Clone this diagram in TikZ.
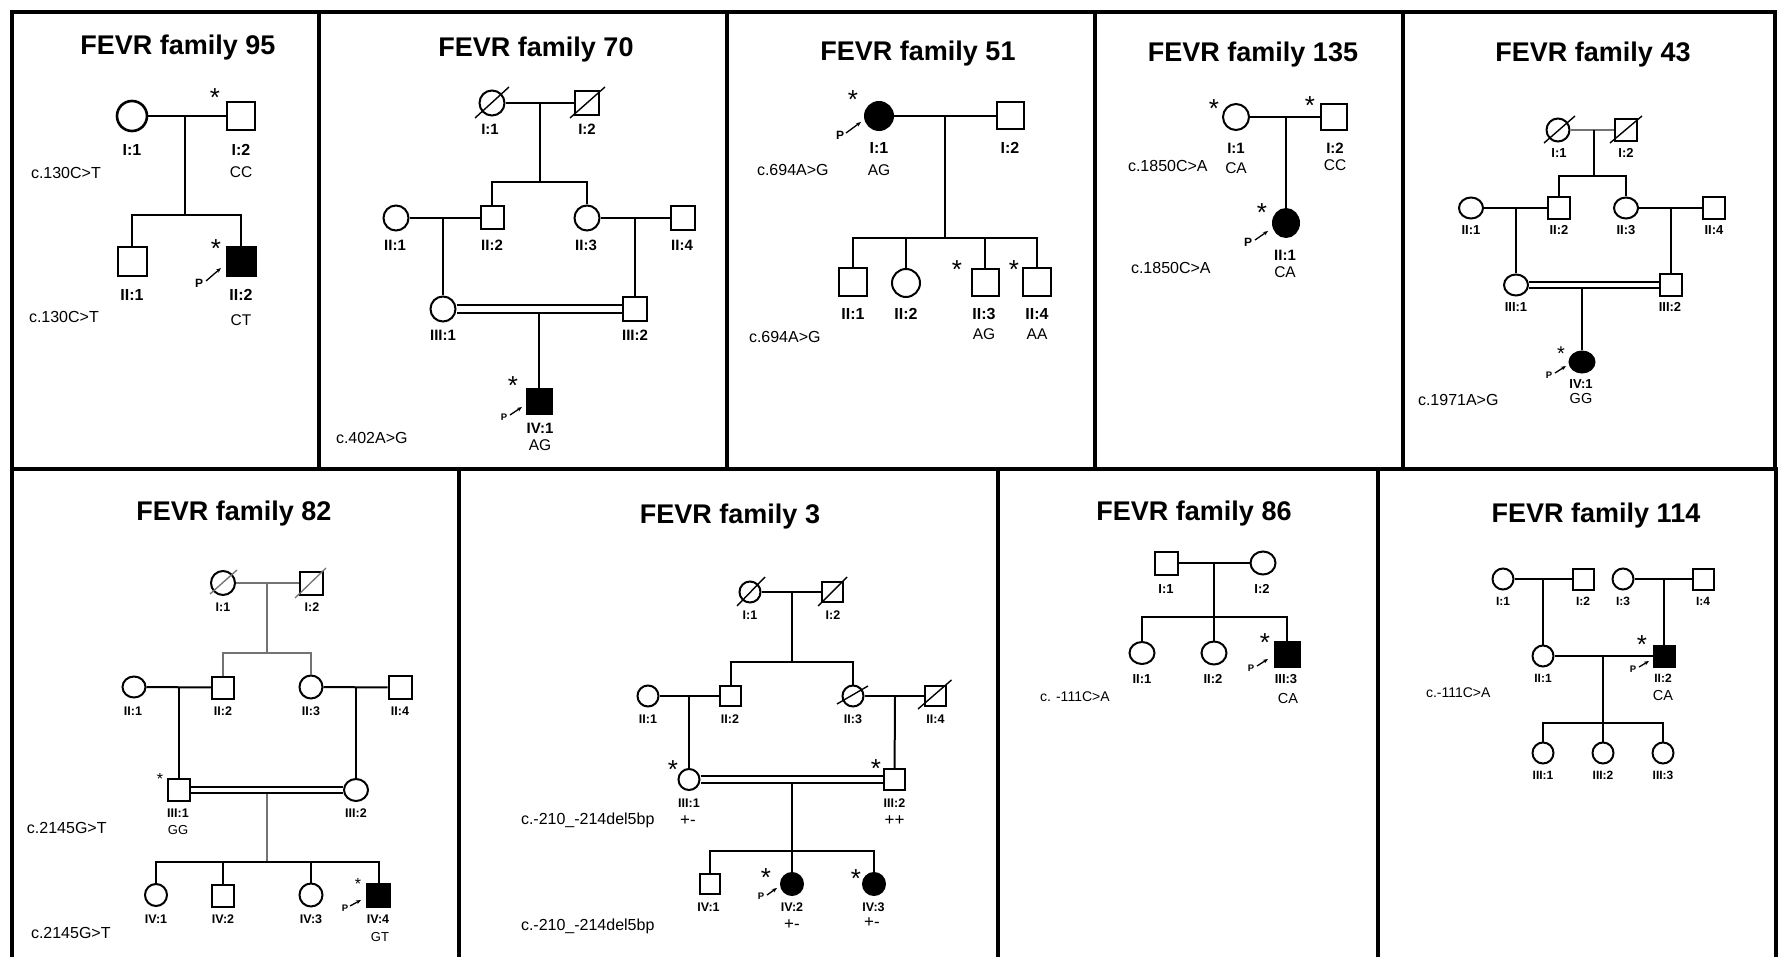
\documentclass[tikz,border=0pt]{standalone}
\usepackage{fontspec}
\setmainfont{Liberation Sans}
\usetikzlibrary{arrows.meta,shapes.geometric}
\begin{document}
\begin{tikzpicture}[x=1pt,y=-1pt,line width=2pt,
  bord/.style={line width=4pt,line cap=rect},
  msq/.style={draw,rectangle,minimum size=#1,inner sep=0pt},
  fci/.style={draw,circle,minimum size=#1,inner sep=0pt},
  fel/.style 2 args={draw,ellipse,minimum width=#1,minimum height=#2,inner sep=0pt},
  aff/.style={fill=black},
  dline/.style={line width=1.4pt},
  glin/.style={line width=1.3pt,black!55},
  ttl/.style={font=\bfseries\fontsize{27}{27}\selectfont,inner sep=0pt,anchor=base},
  lbA/.style={font=\bfseries\fontsize{16}{16}\selectfont,inner sep=0pt,text height=11.5pt,text depth=0pt},
  lbB/.style={font=\bfseries\fontsize{15}{15}\selectfont,inner sep=0pt,text height=10.7pt,text depth=0pt},
  lbC/.style={font=\bfseries\fontsize{13}{13}\selectfont,inner sep=0pt,text height=9.3pt,text depth=0pt},
  lbD/.style={font=\bfseries\fontsize{12.5}{12.5}\selectfont,inner sep=0pt,text height=9pt,text depth=0pt},
  lbE/.style={font=\bfseries\fontsize{12}{12}\selectfont,inner sep=0pt,text height=8.6pt,text depth=0pt},
  gtA/.style={font=\fontsize{15.5}{15.5}\selectfont,inner sep=0pt,text height=11.1pt,text depth=0pt},
  gtB/.style={font=\fontsize{14.5}{14.5}\selectfont,inner sep=0pt,text height=10.4pt,text depth=0pt},
  gtC/.style={font=\fontsize{13}{13}\selectfont,inner sep=0pt,text height=9.3pt,text depth=0pt},
  gtP/.style={font=\fontsize{17}{17}\selectfont,inner sep=0pt,text height=11.7pt,text depth=0pt},
  vr/.style={font=\fontsize{16}{16}\selectfont,inner sep=0pt,anchor=west,text height=11.5pt,text depth=0pt},
  vrs/.style={font=\fontsize{14}{14}\selectfont,inner sep=0pt,anchor=west,text height=10pt,text depth=0pt},
  astL/.style={font=\fontsize{26}{26}\selectfont,inner sep=0pt,anchor=base,yshift=-15pt},
  astM/.style={font=\fontsize{20}{20}\selectfont,inner sep=0pt,anchor=base,yshift=-11.5pt},
  astS/.style={font=\fontsize{16}{16}\selectfont,inner sep=0pt,anchor=base,yshift=-9.2pt},
  pP/.style={font=\bfseries\fontsize{12}{12}\selectfont,inner sep=0pt},
  pPs/.style={font=\bfseries\fontsize{9.5}{9.5}\selectfont,inner sep=0pt},
  parr/.style={-{Stealth[length=5pt,width=4pt]},line width=1.3pt}]

\fill[white] (0,0) rectangle (1785,957);
\useasboundingbox (0,0) rectangle (1785,957);

% ---------- borders ----------
\draw[bord] (12,12) -- (1775,12);
\draw[bord] (12,469) -- (1776,469);
\foreach \x in {12,319,727,1095,1403,1775} \draw[bord] (\x,12) -- (\x,469);
\foreach \x in {12,459,998,1378,1776} \draw[bord] (\x,469) -- (\x,957);

% ---------- FEVR family 95 ----------
\node[ttl] (t95) at (178,55) {FEVR family 95};
\node[fci=30,line width=2.6pt] (a11) at (132,116) {};
\node[msq=28] (a12) at (241,116) {};
\node[msq=29] (a21) at (132,262) {};
\node[msq=29,aff] (a22) at (241,262) {};
\coordinate (a1m) at (185,116);
\coordinate (a1s) at (185,215);
\draw (a11) -- (a12);
\draw (a1m) -- (a1s);
\draw (a21) |- (a1s) -| (a22);
\node[lbA] (a11t) at (132,150) {I:1};
\node[lbA] (a12t) at (241,150) {I:2};
\node[lbA] (a21t) at (132,295) {II:1};
\node[lbA] (a22t) at (241,295) {II:2};
\node[gtA] (a12g) at (241,172) {CC};
\node[gtA] (a22g) at (241,320) {CT};
\node[vr] (a1v) at (30,173) {c.130C>T};
\node[vr] (a2v) at (28,317) {c.130C>T};
\node[astL] (a12s) at (215,92) {*};
\node[astL] (a22s) at (216,243) {*};
\node[pP] (a22p) at (199,283) {P};
\coordinate (a22pa) at (206,281);
\coordinate (a22pb) at (221,268);
\draw[parr] (a22pa) -- (a22pb);

% ---------- FEVR family 70 ----------
\node[ttl] (t70) at (536,57) {FEVR family 70};
\node[fci=25] (b11) at (492,103) {};
\node[msq=24] (b12) at (587,103) {};
\draw[dline] ([shift={(-17,15)}]b11.center) -- ([shift={(17,-16)}]b11.center);
\draw[dline] ([shift={(-17,15)}]b12.center) -- ([shift={(18,-16)}]b12.center);
\node[fci=25] (b21) at (396,218) {};
\node[msq=23] (b22) at (492,218) {};
\node[fci=25] (b23) at (587,218) {};
\node[msq=24] (b24) at (683,218) {};
\node[fci=25] (b31) at (443,309) {};
\node[msq=24] (b32) at (635,309) {};
\node[msq=25,aff] (b41) at (539,401) {};
\coordinate (b1m) at (540,103);
\coordinate (b1s) at (540,182);
\coordinate (b2m) at (443,218);
\coordinate (b2n) at (635,218);
\coordinate (b3m) at (539,313);
\draw (b11) -- (b12);
\draw (b1m) -- (b1s);
\draw (b22) |- (b1s) -| (b23);
\draw (b21) -- (b22);
\draw (b23) -- (b24);
\draw (b2m) -- (b31);
\draw (b2n) -- (b32);
\draw (b3m) -- (b41);
\draw[double,double distance=6pt] (b31) -- (b32);
\node[lbB] (b11t) at (490,129) {I:1};
\node[lbB] (b12t) at (587,129) {I:2};
\node[lbB] (b21t) at (395,245) {II:1};
\node[lbB] (b22t) at (492,245) {II:2};
\node[lbB] (b23t) at (586,245) {II:3};
\node[lbB] (b24t) at (682,245) {II:4};
\node[lbB] (b31t) at (443,335) {III:1};
\node[lbB] (b32t) at (635,335) {III:2};
\node[lbB] (b41t) at (540,428) {IV:1};
\node[gtA] (b41g) at (540,445) {AG};
\node[vr] (b1v) at (335,438) {c.402A>G};
\node[astL] (b41s) at (513,380) {*};
\node[pPs] (b41p) at (504,417) {P};
\coordinate (b41pa) at (510,415);
\coordinate (b41pb) at (522,407);
\draw[parr] (b41pa) -- (b41pb);

% ---------- FEVR family 51 ----------
\node[ttl] (t51) at (918,61) {FEVR family 51};
\node[fci=28,aff] (c11) at (879,116) {};
\node[msq=27] (c12) at (1010,116) {};
\node[msq=28] (c21) at (853,282.5) {};
\node[fci=28] (c22) at (906,283) {};
\node[msq=27] (c23) at (985,282.5) {};
\node[msq=28] (c24) at (1037,282.5) {};
\coordinate (c1m) at (945,116);
\coordinate (c1s) at (945,238);
\draw (c11) -- (c12);
\draw (c1m) -- (c1s);
\draw (c21) |- (c1s) -| (c24);
\draw (c22 |- c1s) -- (c22);
\draw (c23 |- c1s) -- (c23);
\node[lbA] (c11t) at (879,148) {I:1};
\node[lbA] (c12t) at (1010,148) {I:2};
\node[lbA] (c21t) at (853,314) {II:1};
\node[lbA] (c22t) at (906,314) {II:2};
\node[lbA] (c23t) at (984,314) {II:3};
\node[lbA] (c24t) at (1037,314) {II:4};
\node[gtA] (c11g) at (879,170) {AG};
\node[gtA] (c23g) at (984,334) {AG};
\node[gtA] (c24g) at (1037,334) {AA};
\node[vr] (c1v) at (756,170) {c.694A>G};
\node[vr] (c2v) at (748,337) {c.694A>G};
\node[astL] (c11s) at (853,94) {*};
\node[astL] (c23s) at (957,264) {*};
\node[astL] (c24s) at (1014,264) {*};
\node[pP] (c11p) at (840,135) {P};
\coordinate (c11pa) at (846,133);
\coordinate (c11pb) at (861,122);
\draw[parr] (c11pa) -- (c11pb);

% ---------- FEVR family 135 ----------
\node[ttl] (t135) at (1253,62) {FEVR family 135};
\node[fci=26] (d11) at (1236,117) {};
\node[msq=26] (d12) at (1334,117) {};
\node[fel={26}{28},aff] (d21) at (1286,223) {};
\coordinate (d1m) at (1286,117);
\draw (d11) -- (d12);
\draw (d1m) -- (d21);
\node[lbB] (d11t) at (1236,148) {I:1};
\node[lbB] (d12t) at (1335,148) {I:2};
\node[lbB] (d21t) at (1285,255) {II:1};
\node[gtA] (d11g) at (1236,168) {CA};
\node[gtA] (d12g) at (1335,165) {CC};
\node[gtA] (d21g) at (1285,272) {CA};
\node[vr] (d1v) at (1127,166) {c.1850C>A};
\node[vr] (d2v) at (1130,268) {c.1850C>A};
\node[astL] (d11s) at (1214,103) {*};
\node[astL] (d12s) at (1310,100) {*};
\node[astL] (d21s) at (1262,207) {*};
\node[pP] (d21p) at (1248,242) {P};
\coordinate (d21pa) at (1255,240);
\coordinate (d21pb) at (1268,231);
\draw[parr] (d21pa) -- (d21pb);

% ---------- FEVR family 43 ----------
\node[ttl] (t43) at (1593,62) {FEVR family 43};
\node[fci=23] (e11) at (1558,130) {};
\node[msq=22] (e12) at (1626,130) {};
\draw[dline] ([shift={(-14,13)}]e11.center) -- ([shift={(17,-14)}]e11.center);
\draw[dline] ([shift={(-16,13)}]e12.center) -- ([shift={(16,-14)}]e12.center);
\node[fel={24}{21}] (e21) at (1471,208) {};
\node[msq=22] (e22) at (1559,208) {};
\node[fel={24}{21}] (e23) at (1626,208) {};
\node[msq=22] (e24) at (1714,208) {};
\node[fel={24}{21}] (e31) at (1516,285) {};
\node[msq=22] (e32) at (1671,285) {};
\node[fel={25}{21},aff] (e41) at (1582,362) {};
\coordinate (e1m) at (1594,130);
\coordinate (e1s) at (1594,176);
\coordinate (e2m) at (1516,208);
\coordinate (e2n) at (1671,208);
\coordinate (e3m) at (1582,287);
\draw[glin] (e11) -- (e12);
\draw (e1m) -- (e1s);
\draw (e22) |- (e1s) -| (e23);
\draw (e21) -- (e22);
\draw (e23) -- (e24);
\draw (e2m) -- (e31);
\draw (e2n) -- (e32);
\draw (e3m) -- (e41);
\draw[double,double distance=4pt] (e31) -- (e32);
\node[lbC] (e11t) at (1559,153) {I:1};
\node[lbC] (e12t) at (1626,153) {I:2};
\node[lbC] (e21t) at (1471,230) {II:1};
\node[lbC] (e22t) at (1559,230) {II:2};
\node[lbC] (e23t) at (1626,230) {II:3};
\node[lbC] (e24t) at (1714,230) {II:4};
\node[lbC] (e31t) at (1516,307) {III:1};
\node[lbC] (e32t) at (1670,307) {III:2};
\node[lbC] (e41t) at (1581,384) {IV:1};
\node[gtB] (e41g) at (1581,398) {GG};
\node[vr] (e1v) at (1417,400) {c.1971A>G};
\node[astM] (e41s) at (1561,349) {*};
\node[pPs] (e41p) at (1549,375) {P};
\coordinate (e41pa) at (1555,373);
\coordinate (e41pb) at (1566,366);
\draw[parr] (e41pa) -- (e41pb);

% ---------- FEVR family 82 ----------
\node[ttl] (t82) at (234,520) {FEVR family 82};
\node[fci=24] (f11) at (223,583) {};
\node[msq=23] (f12) at (311.5,583) {};
\draw[glin] ([shift={(-13,11)}]f11.center) -- ([shift={(14,-13)}]f11.center);
\draw[glin] ([shift={(-16.5,15)}]f12.center) -- ([shift={(14.5,-15)}]f12.center);
\node[fel={23}{21}] (f21) at (134,687) {};
\node[msq=22] (f22) at (223,687.5) {};
\node[fci=23] (f23) at (311,687) {};
\node[msq=23] (f24) at (400,687.5) {};
\node[msq=22] (f31) at (179,790) {};
\node[fel={24}{22}] (f32) at (356,790) {};
\node[fci=22] (f41) at (156,895) {};
\node[msq=22] (f42) at (223,895.5) {};
\node[fci=23] (f43) at (311,895) {};
\node[msq=23,aff] (f44) at (378.5,895.5) {};
\coordinate (f1m) at (267,583);
\coordinate (f1s) at (267,653);
\coordinate (f2m) at (179,687);
\coordinate (f2n) at (356,687);
\coordinate (f3m) at (267,793);
\coordinate (f3s) at (267,862);
\draw[glin] (f11) -- (f12);
\draw[glin] (f1m) -- (f1s);
\draw[glin] (f22) |- (f1s) -| (f23);
\draw (f21) -- (f22);
\draw (f23) -- (f24);
\draw (f2m) -- (f31);
\draw (f2n) -- (f32);
\draw[glin] (f3m) -- (f3s);
\draw[double,double distance=4pt] (f31) -- (f32);
\draw (f41) |- (f3s) -| (f44);
\draw (f42 |- f3s) -- (f42);
\draw (f43 |- f3s) -- (f43);
\node[lbD] (f11t) at (223,607) {I:1};
\node[lbD] (f12t) at (312,607) {I:2};
\node[lbD] (f21t) at (133,711) {II:1};
\node[lbD] (f22t) at (223,711) {II:2};
\node[lbD] (f23t) at (311,711) {II:3};
\node[lbD] (f24t) at (400,711) {II:4};
\node[lbD] (f31t) at (178,813) {III:1};
\node[lbD] (f32t) at (356,813) {III:2};
\node[lbD] (f41t) at (156,919) {IV:1};
\node[lbD] (f42t) at (223,919) {IV:2};
\node[lbD] (f43t) at (311,919) {IV:3};
\node[lbD] (f44t) at (378,919) {IV:4};
\node[gtC] (f31g) at (178,830) {GG};
\node[gtC] (f44g) at (380,937) {GT};
\node[vr] (f1v) at (26,828) {c.2145G>T};
\node[vr] (f2v) at (30,933) {c.2145G>T};
\node[astS] (f31s) at (160,775) {*};
\node[astS] (f44s) at (358,880) {*};
\node[pPs] (f44p) at (345,908) {P};
\coordinate (f44pa) at (350,906);
\coordinate (f44pb) at (361,900);
\draw[parr] (f44pa) -- (f44pb);

% ---------- FEVR family 3 ----------
\node[ttl] (t3) at (730,523) {FEVR family 3};
\node[fci=21] (g11) at (750,592) {};
\node[msq=20.5] (g12) at (832.5,592) {};
\draw[dline] ([shift={(-13,14)}]g11.center) -- ([shift={(15,-15)}]g11.center);
\draw[dline] ([shift={(-14.5,14)}]g12.center) -- ([shift={(14.5,-15)}]g12.center);
\node[fci=21] (g21) at (648,696) {};
\node[msq=20.5] (g22) at (730.5,696) {};
\node[fci=21] (g23) at (853,696) {};
\node[msq=20.5] (g24) at (935.5,696) {};
\draw[dline] ([shift={(-16,8)}]g23.center) -- ([shift={(15,-10)}]g23.center);
\draw[dline] ([shift={(-17.5,13)}]g24.center) -- ([shift={(16,-16)}]g24.center);
\node[fci=21] (g31) at (689,779.5) {};
\node[msq=20.5] (g32) at (894.5,779.5) {};
\node[msq=20.5] (g41) at (710,884) {};
\node[fci=22,aff] (g42) at (792,884) {};
\node[fci=22,aff] (g43) at (874,884) {};
\coordinate (g1m) at (792,592);
\coordinate (g1s) at (792,662);
\coordinate (g2m) at (689,696);
\coordinate (g2n) at (895,696);
\coordinate (g3m) at (792,782);
\coordinate (g3s) at (792,851);
\draw (g11) -- (g12);
\draw (g1m) -- (g1s);
\draw (g22) |- (g1s) -| (g23);
\draw (g21) -- (g22);
\draw (g23) -- (g24);
\draw (g2m) -- (g31);
\draw (g2n) -- (g32);
\draw (g3m) -- (g42);
\draw[double,double distance=4.7pt] (g31) -- (g32);
\draw (g41) |- (g3s) -| (g43);
\node[lbD] (g11t) at (750,615) {I:1};
\node[lbD] (g12t) at (833,615) {I:2};
\node[lbD] (g21t) at (648,719) {II:1};
\node[lbD] (g22t) at (730,719) {II:2};
\node[lbD] (g23t) at (853,719) {II:3};
\node[lbD] (g24t) at (935.5,719) {II:4};
\node[lbD] (g31t) at (689,802.5) {III:1};
\node[lbD] (g32t) at (894.5,802.5) {III:2};
\node[lbD] (g41t) at (708.5,906.5) {IV:1};
\node[lbD] (g42t) at (792,906.5) {IV:2};
\node[lbD] (g43t) at (873.5,906.5) {IV:3};
\node[gtP] (g31g) at (688,819.5) {+-};
\node[gtP] (g32g) at (894.5,819.5) {++};
\node[gtP] (g42g) at (792,924) {+-};
\node[gtP] (g43g) at (872,922) {+-};
\node[vr] (g1v) at (520,818.5) {c.-210\_-214del5bp};
\node[vr] (g2v) at (520,925) {c.-210\_-214del5bp};
\node[astL] (g31s) at (673,763.5) {*};
\node[astL] (g32s) at (876,762) {*};
\node[astL] (g42s) at (766,871) {*};
\node[astL] (g43s) at (856,872.5) {*};
\node[pPs] (g42p) at (761,896) {P};
\coordinate (g42pa) at (767,895);
\coordinate (g42pb) at (777,888);
\draw[parr] (g42pa) -- (g42pb);

% ---------- FEVR family 86 ----------
\node[ttl] (t86) at (1194,520) {FEVR family 86};
\node[msq=23] (h11) at (1166,563) {};
\node[fel={25}{23}] (h12) at (1263,563) {};
\node[fel={25}{22}] (h21) at (1142,653) {};
\node[fel={25}{23}] (h22) at (1214,653) {};
\node[msq=25,aff] (h23) at (1287,654) {};
\coordinate (h1m) at (1214,563);
\coordinate (h1s) at (1214,617);
\draw (h11) -- (h12);
\draw (h1m) -- (h22);
\draw (h21) |- (h1s) -| (h23);
\node[lbC] (h11t) at (1166,589) {I:1};
\node[lbC] (h12t) at (1262,589) {I:2};
\node[lbC] (h21t) at (1142,679) {II:1};
\node[lbC] (h22t) at (1213,679) {II:2};
\node[lbC] (h23t) at (1286,679) {III:3};
\node[gtB] (h23g) at (1288,698) {CA};
\node[vrs] (h1v) at (1039,696) {c. -111C>A};
\node[astL] (h23s) at (1265,636) {*};
\node[pPs] (h23p) at (1251,668) {P};
\coordinate (h23pa) at (1257,666);
\coordinate (h23pb) at (1268,659);
\draw[parr] (h23pa) -- (h23pb);

% ---------- FEVR family 114 ----------
\node[ttl] (t114) at (1596,522) {FEVR family 114};
\node[fci=21] (k11) at (1503,579) {};
\node[msq=21] (k12) at (1583,579) {};
\node[fci=21] (k13) at (1623,579) {};
\node[msq=21] (k14) at (1703.5,579) {};
\node[fci=21] (k21) at (1543,656) {};
\node[msq=21,aff] (k22) at (1664,656) {};
\node[fci=21] (k31) at (1543,753) {};
\node[fci=21] (k32) at (1603,753) {};
\node[fci=21] (k33) at (1663,753) {};
\coordinate (k1m) at (1543,579);
\coordinate (k1n) at (1664,579);
\coordinate (k2m) at (1603,656);
\coordinate (k2s) at (1603,723);
\draw (k11) -- (k12);
\draw (k13) -- (k14);
\draw (k1m) -- (k21);
\draw (k1n) -- (k22);
\draw (k21) -- (k22);
\draw (k2m) -- (k32);
\draw (k31) |- (k2s) -| (k33);
\node[lbE] (k11t) at (1503,601) {I:1};
\node[lbE] (k12t) at (1583,601) {I:2};
\node[lbE] (k13t) at (1623,601) {I:3};
\node[lbE] (k14t) at (1703,601) {I:4};
\node[lbE] (k21t) at (1543,678) {II:1};
\node[lbE] (k22t) at (1663,678) {II:2};
\node[lbE] (k31t) at (1543,775) {III:1};
\node[lbE] (k32t) at (1603,775) {III:2};
\node[lbE] (k33t) at (1663,775) {III:3};
\node[gtB] (k22g) at (1663,695) {CA};
\node[vrs] (k1v) at (1425,692) {c.-111C>A};
\node[astL] (k22s) at (1642,638) {*};
\node[pPs] (k22p) at (1633,669) {P};
\coordinate (k22pa) at (1639,667);
\coordinate (k22pb) at (1649,661);
\draw[parr] (k22pa) -- (k22pb);

\end{tikzpicture}
\end{document}
